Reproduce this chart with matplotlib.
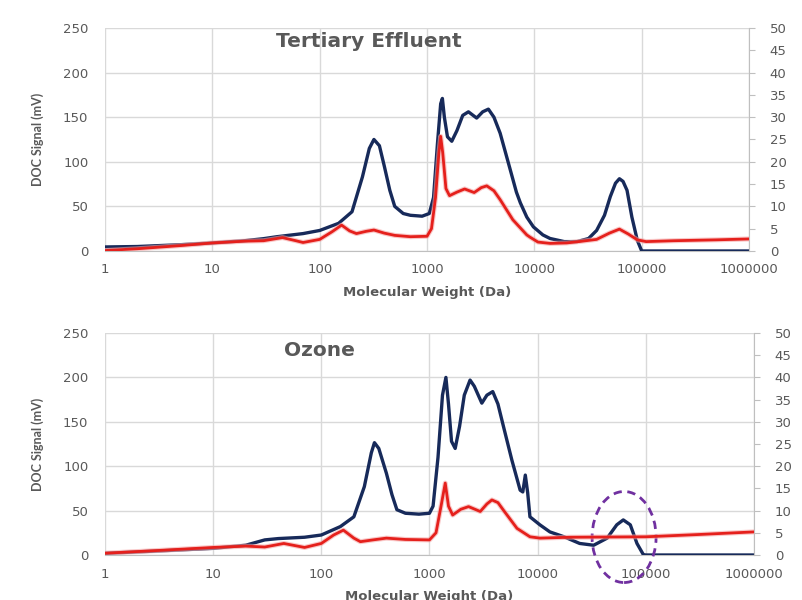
import matplotlib
matplotlib.use("Agg")
import matplotlib.pyplot as plt
import matplotlib.patheffects as pe
from matplotlib.patches import Ellipse
from matplotlib.ticker import FixedLocator, FuncFormatter

# --- Tertiary Effluent ---
te_doc_mw = [1, 2, 5, 10, 20, 30, 40, 70, 100, 150, 200, 250, 290, 320, 360, 400,
             450, 500, 600, 700, 900, 1050, 1150, 1250, 1340, 1390, 1450, 1550,
             1700, 1900, 2150, 2430, 2900, 3300, 3730, 4200, 4800, 5900, 6800,
             7400, 8500, 9800, 12000, 14000, 19000, 25000, 32000, 38000, 45000,
             51000, 57000, 62000, 67000, 73000, 81000, 91000, 100000, 1000000]
te_doc = [4.5, 5, 7, 9, 11.5, 13.8, 16, 19.5, 23, 31, 44, 83, 115, 125, 118, 95,
          68, 50, 42, 40, 39, 42, 60, 120, 165, 171, 150, 128,
          123, 135, 152, 156, 149, 156, 159, 150, 132, 93, 66,
          54, 38, 27, 18, 14, 10.5, 10.5, 14, 23, 40,
          61, 76, 81, 78, 68, 38, 12, 0, 0]

te_uv_mw = [1, 2, 5, 10, 20, 30, 45, 60, 70, 100, 130, 160, 190, 220, 270, 320,
            400, 500, 700, 1000, 1100, 1200, 1290, 1340, 1400, 1500, 1620, 1900,
            2240, 2750, 3200, 3600, 4200, 4800, 6300, 8500, 9100, 10800, 14000,
            20000, 28000, 38000, 50000, 62000, 75000, 91000, 110000, 200000,
            500000, 1000000]
te_uv = [0.1, 0.5, 1.2, 1.8, 2.2, 2.3, 3.0, 2.3, 1.9, 2.6, 4.3, 5.8, 4.5, 3.9, 4.4, 4.7,
         4.0, 3.5, 3.2, 3.3, 5, 12, 22, 25.7, 22, 14, 12.4, 13.2,
         13.9, 13.1, 14.2, 14.6, 13.5, 11.5, 7, 3.6, 3.1, 2.0, 1.7,
         1.8, 2.2, 2.6, 4.0, 4.9, 3.8, 2.5, 2.1, 2.3,
         2.5, 2.7]

# --- Ozone ---
oz_doc_mw = [1, 3, 10, 20, 30, 40, 70, 100, 150, 200, 250, 290, 310, 340, 400, 450,
             500, 600, 800, 1000, 1080, 1200, 1320, 1420, 1500, 1600, 1730, 1900,
             2100, 2375, 2600, 3050, 3400, 3850, 4300, 4830, 5780, 6900, 7300,
             7700, 8100, 8500, 10500, 13000, 17500, 24500, 33000, 44000, 54000,
             62000, 72000, 83000, 95000, 100000, 1000000]
oz_doc = [1.9, 4.5, 7.5, 11, 17, 18.5, 20, 22.5, 32, 43, 77, 115, 126.5, 120, 92, 68,
          51, 47, 46, 47, 55, 110, 180, 200, 170, 128, 120, 145,
          180, 197, 190, 171, 180, 184, 170, 145, 107, 73, 71,
          90, 70, 43, 34, 26, 20.6, 13, 11, 19, 34,
          39.5, 34, 13, 0.5, 0, 0]

oz_uv_mw = [1, 3, 10, 20, 30, 45, 70, 100, 130, 160, 200, 230, 300, 400, 600, 1000,
            1150, 1280, 1400, 1500, 1640, 1950, 2300, 2950, 3400, 3780, 4300, 4830,
            6450, 8500, 10500, 20000, 100000, 300000, 1000000]
oz_uv = [0.4, 1.0, 1.7, 2.0, 1.8, 2.6, 1.7, 2.6, 4.5, 5.6, 3.8, 3.0, 3.4, 3.8, 3.5, 3.4,
         5, 11, 16.2, 11, 9, 10.3, 10.9, 9.8, 11.5, 12.4, 11.8, 10.1,
         6, 4.1, 3.8, 4.0, 4.1, 4.6, 5.2]

titles = ["Tertiary Effluent", "Ozone"]
x_ticks = [1, 10, 100, 1000, 10000, 100000, 1000000]

navy = "#172a5a"
red = "#e5201c"
grey = "#595959"
gridc = "#d9d9d9"

fig = plt.figure(figsize=(8.03, 6.00), dpi=100)

boxes = [[0.1308, 0.5817, 0.802, 0.3717], [0.1308, 0.075, 0.808, 0.370]]
series = [(te_doc_mw, te_doc, te_uv_mw, te_uv), (oz_doc_mw, oz_doc, oz_uv_mw, oz_uv)]
title_pos = [(0.41, 0.94), (0.33, 0.92)]
glow = [pe.Stroke(linewidth=3.6, foreground="#f5a3a3", alpha=0.6), pe.Normal()]

axes = []
for box, (dmw, dv, umw, uv), title, tp in zip(boxes, series, titles, title_pos):
    ax = fig.add_axes(box)
    ax.set_xscale("log")
    ax.set_xlim(1, 1000000)
    ax.set_ylim(0, 250)
    ax.plot(dmw, dv, color=navy, lw=2.4, solid_joinstyle="round", zorder=3)

    ax.xaxis.set_major_locator(FixedLocator(x_ticks))
    ax.xaxis.set_minor_locator(FixedLocator([]))
    ax.xaxis.set_major_formatter(FuncFormatter(lambda v, p: "%d" % v))
    ax.set_yticks(range(0, 251, 50))
    ax.grid(True, color=gridc, lw=1)
    ax.set_axisbelow(True)
    for s in ["left", "top", "right"]:
        ax.spines[s].set_visible(False)
    ax.spines["bottom"].set_color("#bfbfbf")
    ax.tick_params(axis="both", length=0, colors=grey, labelsize=9.5)
    ax.tick_params(axis="y", pad=12)
    ax.tick_params(axis="x", pad=9)

    ax.set_xlabel("Molecular Weight (Da)", fontsize=9.5, fontweight="bold", color=grey)
    ax.set_ylabel("DOC Signal (mV)", fontsize=9, fontweight="bold", color=grey,
                  family="Lato")
    ax.yaxis.set_label_coords(-0.094, 0.5)
    ax.text(tp[0], tp[1], title, transform=ax.transAxes, ha="center", va="center",
            fontsize=14.5, fontweight="bold", color=grey)

    ax2 = ax.twinx()
    ax2.set_ylim(0, 50)
    ax2.set_yticks(range(0, 51, 5))
    ax2.plot(umw, uv, color=red, lw=2.0, solid_joinstyle="round", zorder=3,
             path_effects=glow)
    for s in ["left", "top", "bottom"]:
        ax2.spines[s].set_visible(False)
    ax2.spines["right"].set_color("#bfbfbf")
    ax2.tick_params(axis="y", length=4, color="#bfbfbf", colors=grey,
                    labelsize=9.5, pad=11)
    ax2.set_ylabel("UV Signal (mAU)", fontsize=9, fontweight="bold", color=grey,
                   family="Lato")
    ax2.yaxis.set_label_coords(1.085, 0.45)
    axes.append(ax)

axes[0].xaxis.set_label_coords(0.5, -0.155)
axes[1].xaxis.set_label_coords(0.5, -0.158)

# dashed ring round the 60-70 kDa peak in the ozone panel
ring = Ellipse((0.80, 0.081), 0.0986, 0.41, transform=axes[1].transAxes,
               fill=False, ec="#7030a0", ls=(0, (3, 2)), lw=2, clip_on=False, zorder=5)
axes[1].add_patch(ring)

plt.savefig("out.png", format="png")
